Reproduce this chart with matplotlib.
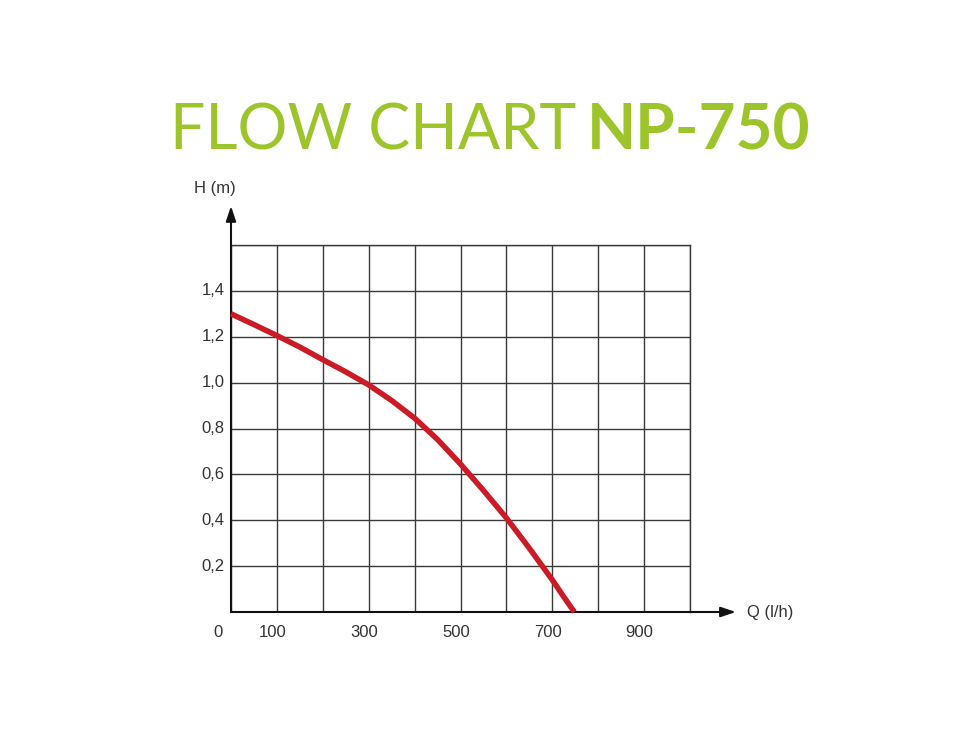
import matplotlib

matplotlib.use("Agg")
from matplotlib import pyplot as plt

# pump curve (flow in l/h, head in m)
flow = [0, 50, 100, 150, 200, 250, 300, 350, 400, 450, 500, 550, 600, 650, 700, 725, 748]
head = [1.30, 1.253, 1.205, 1.155, 1.10, 1.047, 0.99, 0.922, 0.845, 0.752, 0.645, 0.53, 0.41, 0.278, 0.14, 0.066, 0.0]

x_ticks = [100, 300, 500, 700, 900]
y_ticks = [0.2, 0.4, 0.6, 0.8, 1.0, 1.2, 1.4]
y_labels = ["0,2", "0,4", "0,6", "0,8", "1,0", "1,2", "1,4"]

GREEN = "#9dc52b"
RED = "#cc1b26"
GRID = "#3a3a3a"

plt.rcParams["font.family"] = ["Liberation Sans", "DejaVu Sans"]

fig = plt.figure(figsize=(9.8, 7.35), dpi=100)
ax = fig.add_axes([231 / 980, 123 / 735, 459 / 980, 367 / 735])

ax.set_xlim(0, 1000)
ax.set_ylim(0, 1.6)
ax.set_xticks(range(0, 1001, 100))
ax.set_yticks([i * 0.2 for i in range(9)])
ax.set_xticklabels([])
ax.set_yticklabels([])
ax.tick_params(length=0)
ax.grid(True, color=GRID, linewidth=1.0)
for side in ["top", "right"]:
    ax.spines[side].set_color(GRID)
    ax.spines[side].set_linewidth(1.0)
for side in ["left", "bottom"]:
    ax.spines[side].set_visible(False)

ax.plot(flow, head, color=RED, linewidth=4, solid_capstyle="butt",
        solid_joinstyle="round", zorder=5, clip_on=False)

# axes with arrow heads
ax.annotate("", xy=(1100, 0), xytext=(0, 0), xycoords="data",
            arrowprops=dict(arrowstyle="-|>,head_length=0.9,head_width=0.3",
                            color="#111111", lw=1.5, shrinkA=0, shrinkB=0),
            annotation_clip=False)
ax.annotate("", xy=(0, 1.77), xytext=(0, 0), xycoords="data",
            arrowprops=dict(arrowstyle="-|>,head_length=0.9,head_width=0.3",
                            color="#111111", lw=1.5, shrinkA=0, shrinkB=0),
            annotation_clip=False)

for x in x_ticks:
    ax.text(x - 10, -0.09, str(x), ha="center", va="center", fontsize=12, color="#333333")
ax.text(-28, -0.09, "0", ha="center", va="center", fontsize=12, color="#333333")
for y, lab in zip(y_ticks, y_labels):
    ax.text(-14, y, lab, ha="right", va="center", fontsize=12, color="#333333")

ax.text(1125, 0, "Q (l/h)", ha="left", va="center", fontsize=12, color="#333333")
ax.text(-80, 1.845, "H (m)", ha="left", va="center", fontsize=12, color="#333333")

title_base = 1 - 149 / 735
fig.text(170 / 980, title_base, "FLOW CHART", ha="left", va="baseline",
         fontsize=45, color=GREEN, family=["Lato", "DejaVu Sans"])
fig.text(810 / 980, title_base, "NP-750", ha="right", va="baseline",
         fontsize=46, color=GREEN, fontweight="bold", family=["Lato", "DejaVu Sans"])

fig.savefig("out.png", dpi=100, facecolor="white")
